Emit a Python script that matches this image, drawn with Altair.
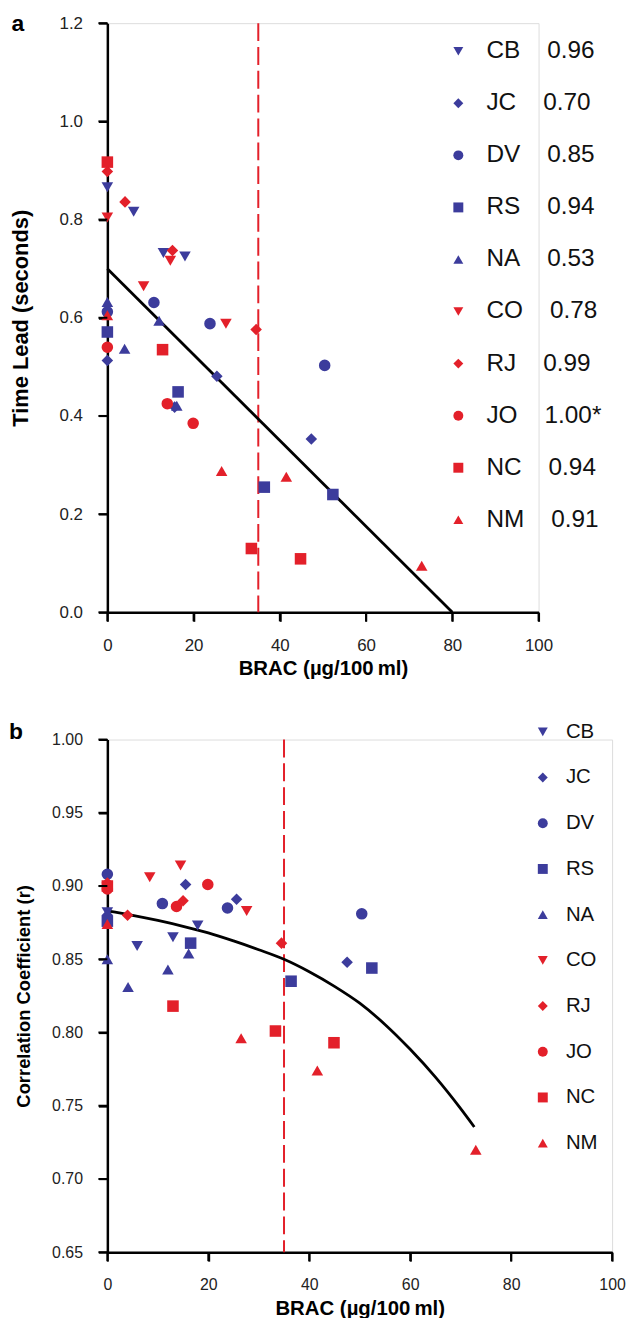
import altair as alt
import pandas as pd

NB = "\u00a0"
subjects = ["CB", "JC", "DV", "RS", "NA", "CO", "RJ", "JO", "NC", "NM"]
r_values = ["0.96", "0.70", "0.85", "0.94", "0.53", "0.78", "0.99", "1.00*", "0.94", "0.91"]
colors = ["#3c3c9c"] * 5 + ["#e3202a"] * 5
shapes = ["triangle-down", "diamond", "circle", "square", "triangle-up"] * 2

# Panel a: time lead vs BRAC
a_subj = (["CB"] * 4 + ["JC"] * 4 + ["DV"] * 4 + ["RS"] * 4 + ["NA"] * 4 +
          ["CO"] * 4 + ["RJ"] * 4 + ["JO"] * 3 + ["NC"] * 4 + ["NM"] * 4)
a_brac = [0, 6.1, 13.0, 18.0,
          0, 15.6, 25.4, 47.3,
          0, 10.8, 23.8, 50.4,
          0, 16.4, 36.4, 52.3,
          0, 4.0, 12.0, 16.1,
          0, 8.4, 14.6, 27.5,
          0, 4.1, 15.1, 34.5,
          0, 13.9, 19.9,
          0, 12.8, 33.4, 44.8,
          0, 26.5, 41.5, 72.9]
a_lead = [0.866, 0.816, 0.732, 0.725,
          0.513, 0.418, 0.481, 0.353,
          0.612, 0.631, 0.588, 0.503,
          0.571, 0.449, 0.255, 0.240,
          0.632, 0.537, 0.594, 0.421,
          0.804, 0.664, 0.716, 0.588,
          0.898, 0.836, 0.737, 0.576,
          0.540, 0.425, 0.385,
          0.917, 0.535, 0.130, 0.109,
          0.605, 0.288, 0.276, 0.095]
a_fit_brac = [0, 80]
a_fit_lead = [0.70, 0.0]

# Panel b: correlation coefficient vs BRAC
b_subj = a_subj
b_brac = [0, 5.9, 13.0, 17.9,
          0, 15.5, 25.6, 47.5,
          0, 10.9, 23.8, 50.4,
          0, 16.5, 36.4, 52.4,
          0, 4.1, 12.0, 16.1,
          0, 8.4, 14.5, 27.6,
          0, 4.0, 15.0, 34.5,
          0, 13.7, 19.9,
          0, 13.0, 33.3, 44.9,
          0, 26.5, 41.6, 73.0]
b_corr = [0.882, 0.859, 0.865, 0.873,
          0.880, 0.901, 0.891, 0.848,
          0.908, 0.888, 0.885, 0.881,
          0.876, 0.861, 0.835, 0.844,
          0.850, 0.831, 0.843, 0.854,
          0.899, 0.906, 0.914, 0.883,
          0.902, 0.880, 0.890, 0.861,
          0.898, 0.886, 0.901,
          0.900, 0.818, 0.801, 0.793,
          0.874, 0.796, 0.774, 0.720]
b_fit_brac = [0, 5, 10, 15, 20, 25, 30, 35, 40, 45, 50, 55, 60, 65, 70, 72.7]
b_fit_corr = [0.883, 0.880, 0.8765, 0.8725, 0.868, 0.8625, 0.8565, 0.850, 0.8415,
              0.8315, 0.820, 0.8055, 0.7885, 0.7695, 0.748, 0.7355]

threshold = [35]
x_ticks = [0, 20, 40, 60, 80, 100]
a_y_ticks = [0, 0.2, 0.4, 0.6, 0.8, 1.0, 1.2]
b_y_ticks = [0.65, 0.70, 0.75, 0.80, 0.85, 0.90, 0.95, 1.00]

FONT = "Liberation Sans"
BLACK = "#000000"
RED = "#e3202a"
X_TITLE = "BRAC (\u00b5g/100\u2009ml)"
TICK_LEN = 9

labels_a = [s + NB * 4 + r for s, r in zip(subjects, r_values)]
labels_b = list(subjects)
lab_a = dict(zip(subjects, labels_a))

df_a = pd.DataFrame({"subject": a_subj, "brac": a_brac, "lead": a_lead})
df_a["legend"] = df_a["subject"].map(lab_a)
df_b = pd.DataFrame({"subject": b_subj, "brac": b_brac, "corr": b_corr})
df_b["legend"] = df_b["subject"]


def make_panel(df, yfield, ydomain, yticks, yfmt, ytitle, labels, fit_x, fit_y,
               width, height, tick_fs, leg_fs, leg_x, leg_y, leg_rowpad, leg_lo,
               ytitle_pad, letter, letter_x, letter_y, ytitle_fs):
    x_enc = alt.X("brac:Q", scale=alt.Scale(domain=[0, 100], nice=False),
                  axis=alt.Axis(values=x_ticks, format="d", title=X_TITLE, grid=False,
                                ticks=True, tickSize=TICK_LEN, tickWidth=2, tickColor=BLACK,
                                tickOpacity=1,
                                domainColor=BLACK, domainWidth=2.5, labelFlush=False,
                                labelFont=FONT, labelFontSize=tick_fs, labelColor="#222222",
                                labelPadding=16, titleFont=FONT, titleFontSize=20.5,
                                titleFontWeight="bold", titleColor=BLACK, titlePadding=6))
    y_enc = alt.Y(yfield + ":Q", scale=alt.Scale(domain=ydomain, nice=False, zero=False),
                  axis=alt.Axis(values=yticks, format=yfmt, title=ytitle, grid=False,
                                ticks=True, tickSize=TICK_LEN, tickWidth=2, tickColor=BLACK,
                                tickOpacity=1,
                                domainColor=BLACK, domainWidth=2.5, labelFlush=False,
                                labelFont=FONT, labelFontSize=tick_fs, labelColor="#222222",
                                labelPadding=16, titleFont=FONT, titleFontSize=ytitle_fs,
                                titleFontWeight="bold", titleColor=BLACK,
                                titlePadding=ytitle_pad))
    leg = alt.Legend(title=None, orient="none", legendX=leg_x, legendY=leg_y,
                     padding=0, rowPadding=leg_rowpad, labelOffset=leg_lo,
                     labelFont=FONT, labelFontSize=leg_fs, labelColor="#111111",
                     symbolSize=100, symbolStrokeWidth=0, symbolOpacity=1, labelLimit=300)
    fit_df = pd.DataFrame({"brac": fit_x, yfield: fit_y})
    thr_df = pd.DataFrame({"brac": threshold})
    txt_df = pd.DataFrame({"t": [letter]})
    xt_df = pd.DataFrame({"brac": x_ticks})
    yt_df = pd.DataFrame({yfield: yticks})

    thr = alt.Chart(thr_df).mark_rule(color=RED, strokeWidth=2, strokeDash=[18, 6]).encode(
        x=x_enc)
    fit = alt.Chart(fit_df).mark_line(color=BLACK, strokeWidth=2.8, interpolate="monotone").encode(
        x=x_enc, y=y_enc)
    pts = alt.Chart(df).mark_point(filled=True, size=135, opacity=1, strokeWidth=0).encode(
        x=x_enc, y=y_enc,
        shape=alt.Shape("legend:N", scale=alt.Scale(domain=labels, range=shapes), legend=leg),
        color=alt.Color("legend:N", scale=alt.Scale(domain=labels, range=colors), legend=leg),
    )
    # outward tick marks at the axis tick values
    xt = alt.Chart(xt_df).mark_rule(color=BLACK, strokeWidth=2).encode(
        x=x_enc, y=alt.value(height), y2=alt.value(height + TICK_LEN))
    yt = alt.Chart(yt_df).mark_rule(color=BLACK, strokeWidth=2).encode(
        y=y_enc, x=alt.value(0), x2=alt.value(-TICK_LEN))
    let = alt.Chart(txt_df).mark_text(font=FONT, fontSize=23, fontWeight="bold", color=BLACK,
                                      align="center", baseline="middle").encode(
        text="t:N", x=alt.value(letter_x), y=alt.value(letter_y))
    return alt.layer(thr, fit, pts, xt, yt, let).properties(width=width, height=height)


panel_a = make_panel(df_a, "lead", [0, 1.2], a_y_ticks, ".1f", "Time Lead (seconds)",
                     labels_a, a_fit_brac, a_fit_lead, 434, 593, 17, 24.5,
                     341, 16, 27.4, 16, 27, "a", -90, 1, 22)
panel_b = make_panel(df_b, "corr", [0.65, 1.0], b_y_ticks, ".2f", "Correlation Coefficient (r)",
                     labels_b, b_fit_brac, b_fit_corr, 508, 516, 16, 20.5,
                     428, -18, 25, 13, 18, "b", -92, -8, 18.5)

chart = alt.vconcat(panel_a, panel_b, spacing=40).resolve_scale(
    color="independent", shape="independent"
).properties(
    padding={"left": 0, "top": 0, "right": 0, "bottom": 0}
).configure_view(stroke=None).configure_axis(
    ticks=True, tickSize=TICK_LEN, tickWidth=2, tickColor=BLACK, tickOpacity=1
).configure(font=FONT, background="white")

chart.save("out.html", embed_options={"renderer": "svg", "actions": False})
